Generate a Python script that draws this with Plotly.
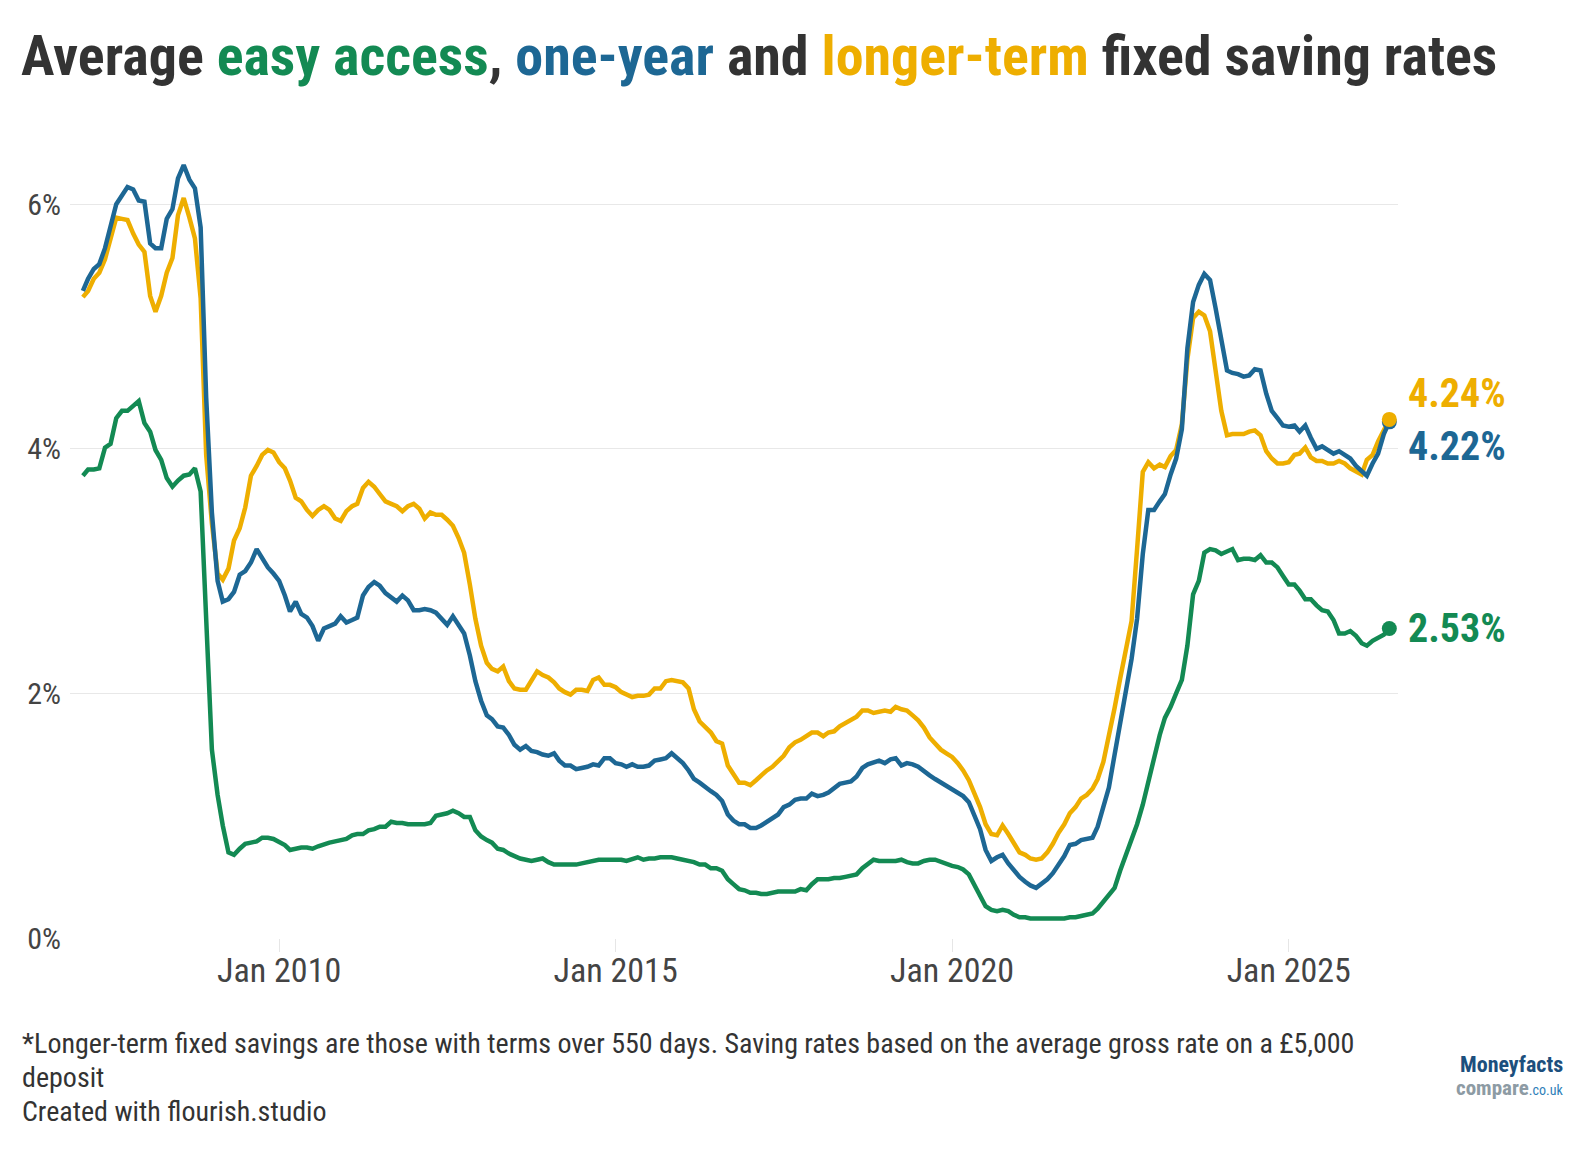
import plotly.graph_objects as go
import pandas as pd

# ---------------- data (monthly, Feb 2007 – Jul 2026) ----------------
start_month = "2007-02-01"

longer_term = [
    5.24, 5.29, 5.39, 5.44, 5.55, 5.72, 5.89, 5.88, 5.87, 5.76, 5.67,              # 2007 Feb-Dec
    5.61, 5.25, 5.12, 5.25, 5.44, 5.56, 5.91, 6.05, 5.89, 5.72, 5.23, 3.95,        # 2008
    3.39, 2.98, 2.93, 3.02, 3.25, 3.35, 3.52, 3.78, 3.86, 3.95, 3.99, 3.97,        # 2009
    3.89, 3.84, 3.74, 3.60, 3.57, 3.50, 3.45, 3.50, 3.53, 3.50, 3.43, 3.41,        # 2010
    3.49, 3.53, 3.55, 3.68, 3.73, 3.69, 3.63, 3.57, 3.55, 3.53, 3.49, 3.53,        # 2011
    3.55, 3.51, 3.43, 3.48, 3.46, 3.46, 3.42, 3.37, 3.27, 3.15, 2.89, 2.61,        # 2012
    2.39, 2.25, 2.20, 2.18, 2.22, 2.10, 2.04, 2.03, 2.03, 2.10, 2.18, 2.15,        # 2013
    2.13, 2.09, 2.04, 2.01, 1.99, 2.03, 2.03, 2.02, 2.11, 2.13, 2.07, 2.07,        # 2014
    2.05, 2.01, 1.99, 1.97, 1.98, 1.98, 1.99, 2.04, 2.04, 2.10, 2.11, 2.10,        # 2015
    2.09, 2.04, 1.87, 1.77, 1.72, 1.68, 1.61, 1.59, 1.41, 1.34, 1.27, 1.27,        # 2016
    1.25, 1.29, 1.33, 1.37, 1.40, 1.44, 1.49, 1.56, 1.60, 1.62, 1.65, 1.68,        # 2017
    1.68, 1.65, 1.68, 1.69, 1.73, 1.76, 1.78, 1.81, 1.86, 1.86, 1.84, 1.85,        # 2018
    1.86, 1.85, 1.89, 1.87, 1.86, 1.82, 1.78, 1.72, 1.64, 1.59, 1.54, 1.51,        # 2019
    1.48, 1.43, 1.37, 1.29, 1.18, 1.07, 0.93, 0.85, 0.84, 0.92, 0.85, 0.77,        # 2020
    0.70, 0.68, 0.65, 0.64, 0.65, 0.70, 0.77, 0.86, 0.93, 1.02, 1.07, 1.14,        # 2021
    1.17, 1.22, 1.30, 1.44, 1.64, 1.88, 2.12, 2.34, 2.59, 3.18, 3.81, 3.89,        # 2022
    3.84, 3.87, 3.85, 3.94, 3.99, 4.20, 4.73, 5.07, 5.12, 5.09, 4.96, 4.64,        # 2023
    4.31, 4.11, 4.12, 4.12, 4.12, 4.14, 4.15, 4.11, 3.98, 3.92, 3.88, 3.88,        # 2024
    3.89, 3.95, 3.96, 4.01, 3.93, 3.90, 3.90, 3.88, 3.88, 3.90, 3.88, 3.84,        # 2025
    3.81, 3.79, 3.91, 3.95, 4.06, 4.16, 4.24,                                      # 2026 Jan-Jul
]

one_year = [
    5.29, 5.39, 5.47, 5.51, 5.64, 5.81, 6.00, 6.07, 6.14, 6.12, 6.03,
    6.02, 5.68, 5.64, 5.64, 5.88, 5.96, 6.21, 6.32, 6.20, 6.13, 5.81, 4.42,
    3.48, 2.92, 2.75, 2.77, 2.83, 2.97, 3.00, 3.07, 3.18, 3.10, 3.03, 2.98,
    2.92, 2.80, 2.67, 2.75, 2.65, 2.62, 2.55, 2.43, 2.53, 2.55, 2.57, 2.63,
    2.58, 2.60, 2.62, 2.80, 2.87, 2.91, 2.88, 2.82, 2.78, 2.75, 2.80, 2.76,
    2.68, 2.68, 2.69, 2.68, 2.66, 2.61, 2.56, 2.63, 2.55, 2.49, 2.31, 2.10,
    1.94, 1.82, 1.79, 1.73, 1.72, 1.66, 1.58, 1.54, 1.57, 1.53, 1.52, 1.50,
    1.49, 1.51, 1.45, 1.41, 1.41, 1.38, 1.39, 1.40, 1.42, 1.41, 1.47, 1.47,
    1.43, 1.42, 1.40, 1.42, 1.40, 1.40, 1.41, 1.45, 1.46, 1.47, 1.51, 1.47,
    1.43, 1.37, 1.30, 1.27, 1.23, 1.20, 1.17, 1.12, 1.01, 0.96, 0.93, 0.93,
    0.90, 0.90, 0.92, 0.95, 0.98, 1.01, 1.07, 1.09, 1.13, 1.14, 1.14, 1.18,
    1.16, 1.17, 1.19, 1.22, 1.26, 1.27, 1.28, 1.32, 1.39, 1.42, 1.44, 1.45,
    1.43, 1.46, 1.47, 1.41, 1.43, 1.42, 1.40, 1.37, 1.33, 1.30, 1.27, 1.24,
    1.21, 1.18, 1.16, 1.11, 1.01, 0.89, 0.72, 0.63, 0.66, 0.68, 0.61, 0.55,
    0.50, 0.46, 0.43, 0.41, 0.44, 0.48, 0.53, 0.60, 0.67, 0.76, 0.77, 0.80,
    0.81, 0.82, 0.91, 1.09, 1.23, 1.50, 1.76, 1.99, 2.28, 2.61, 3.14, 3.50,
    3.50, 3.57, 3.63, 3.79, 3.92, 4.16, 4.82, 5.20, 5.34, 5.43, 5.38, 5.15,
    4.87, 4.64, 4.62, 4.61, 4.59, 4.60, 4.65, 4.64, 4.45, 4.31, 4.25, 4.19,
    4.18, 4.19, 4.14, 4.19, 4.09, 4.00, 4.02, 3.99, 3.96, 3.98, 3.95, 3.92,
    3.86, 3.82, 3.78, 3.88, 3.96, 4.12, 4.22,
]

easy_access = [
    3.78, 3.83, 3.83, 3.84, 4.01, 4.04, 4.25, 4.31, 4.31, 4.35, 4.39,
    4.21, 4.14, 3.99, 3.91, 3.76, 3.69, 3.74, 3.78, 3.79, 3.84, 3.65, 2.67,
    1.54, 1.17, 0.92, 0.70, 0.68, 0.73, 0.77, 0.78, 0.79, 0.82, 0.82, 0.81,
    0.79, 0.76, 0.72, 0.73, 0.74, 0.74, 0.73, 0.75, 0.77, 0.78, 0.79, 0.80,
    0.81, 0.84, 0.85, 0.85, 0.88, 0.89, 0.91, 0.91, 0.95, 0.94, 0.94, 0.93,
    0.93, 0.93, 0.93, 0.94, 1.00, 1.01, 1.02, 1.04, 1.02, 0.99, 0.99, 0.88,
    0.83, 0.80, 0.78, 0.73, 0.72, 0.69, 0.67, 0.65, 0.64, 0.63, 0.64, 0.65,
    0.62, 0.60, 0.60, 0.60, 0.60, 0.60, 0.61, 0.62, 0.63, 0.64, 0.64, 0.64,
    0.64, 0.64, 0.63, 0.65, 0.66, 0.64, 0.65, 0.65, 0.66, 0.66, 0.66, 0.65,
    0.64, 0.63, 0.62, 0.60, 0.60, 0.57, 0.57, 0.55, 0.48, 0.44, 0.40, 0.39,
    0.37, 0.37, 0.36, 0.36, 0.37, 0.38, 0.38, 0.38, 0.38, 0.40, 0.39, 0.44,
    0.48, 0.48, 0.48, 0.49, 0.49, 0.50, 0.51, 0.52, 0.57, 0.61, 0.64, 0.63,
    0.63, 0.63, 0.63, 0.64, 0.62, 0.61, 0.61, 0.63, 0.64, 0.64, 0.62, 0.61,
    0.59, 0.58, 0.56, 0.52, 0.43, 0.33, 0.26, 0.23, 0.22, 0.23, 0.22, 0.19,
    0.17, 0.17, 0.16, 0.16, 0.16, 0.16, 0.16, 0.16, 0.16, 0.17, 0.17, 0.18,
    0.19, 0.20, 0.24, 0.30, 0.36, 0.41, 0.55, 0.68, 0.80, 0.93, 1.09, 1.28,
    1.50, 1.66, 1.80, 1.89, 2.00, 2.11, 2.39, 2.81, 2.92, 3.15, 3.18, 3.17,
    3.14, 3.16, 3.18, 3.09, 3.10, 3.10, 3.09, 3.13, 3.07, 3.07, 3.03, 2.96,
    2.89, 2.89, 2.84, 2.77, 2.77, 2.72, 2.68, 2.67, 2.60, 2.49, 2.49, 2.51,
    2.47, 2.41, 2.39, 2.43, 2.46, 2.48, 2.53,
]

x_tick_dates = ["2010-01-01", "2015-01-01", "2020-01-01", "2025-01-01"]
x_tick_labels = ["Jan 2010", "Jan 2015", "Jan 2020", "Jan 2025"]
y_tick_vals = [0, 2, 4, 6]
y_tick_labels = ["0%", "2%", "4%", "6%"]

months = pd.date_range(start_month, periods=len(one_year), freq="MS")

# ---------------- style ----------------
GREEN = "#138a53"
BLUE = "#1d6794"
ORANGE = "#eeae00"
TEXT = "#333333"
AXIS_TEXT = "#444444"
COND = "Roboto Condensed, Liberation Sans Narrow, Arial Narrow, sans-serif"

W, H = 1588, 1150
L, R, T, B = 70, 190, 143, 212
PW, PH = W - L - R, H - T - B


def px2x(px):
    return (px - L) / PW


def py2y(py):
    return (H - B - py) / PH


fig = go.Figure()

line_order = [(easy_access, GREEN, "Easy access"),
              (longer_term, ORANGE, "Longer-term fixed"),
              (one_year, BLUE, "One-year fixed")]
for vals, col, name in line_order:
    fig.add_trace(go.Scatter(x=months, y=vals, mode="lines", name=name,
                             line=dict(color=col, width=4.5),
                             hoverinfo="skip", showlegend=False))

for vals, col in [(one_year, BLUE), (longer_term, ORANGE), (easy_access, GREEN)]:
    fig.add_trace(go.Scatter(x=[months[-1]], y=[vals[-1]], mode="markers",
                             marker=dict(color=col, size=15), cliponaxis=False,
                             hoverinfo="skip", showlegend=False))

# end labels
end_labels = [(longer_term, ORANGE, 26), (one_year, BLUE, -25), (easy_access, GREEN, 0)]
for vals, col, ys in end_labels:
    fig.add_annotation(x=months[-1], y=vals[-1], xref="x", yref="y",
                       text=f"<b>{vals[-1]:.2f}%</b>", showarrow=False,
                       xanchor="left", yanchor="middle", xshift=17, yshift=ys,
                       font=dict(family=COND, size=40, color=col))

# footer
footer = [
    ("*Longer-term fixed savings are those with terms over 550 days. Saving rates based on the average gross rate on a £5,000", 1043),
    ("deposit", 1077),
    ("Created with flourish.studio", 1111),
]
for txt, yy in footer:
    fig.add_annotation(x=px2x(20), y=py2y(yy), xref="paper", yref="paper",
                       text=txt, showarrow=False, xanchor="left", yanchor="middle",
                       font=dict(family=COND, size=28, color=TEXT))

# logo
fig.add_annotation(x=px2x(1564), y=py2y(1064), xref="paper", yref="paper",
                   text="<b>Moneyfacts</b>", showarrow=False, xanchor="right",
                   yanchor="middle", borderpad=0,
                   font=dict(family=COND, size=22, color="#1c4f7d"))
fig.add_annotation(x=px2x(1564), y=py2y(1088), xref="paper", yref="paper",
                   text="<b>compare</b><span style='font-size:14px;color:#2f7fb9'>.co.uk</span>",
                   showarrow=False, xanchor="right", yanchor="middle", borderpad=0,
                   font=dict(family=COND, size=21, color="#8d9ba4"))

title_html = ("<b>Average <span style='color:%s'>easy access</span>, "
              "<span style='color:%s'>one-year</span> and "
              "<span style='color:%s'>longer-term</span> fixed saving rates</b>"
              % (GREEN, BLUE, ORANGE))

fig.update_layout(
    width=W, height=H,
    margin=dict(l=L, r=R, t=T, b=B),
    paper_bgcolor="white", plot_bgcolor="white",
    title=dict(text=title_html, x=21 / W, xref="container", xanchor="left",
               y=1 - 55 / H, yref="container", yanchor="middle",
               font=dict(family=COND, size=56, color=TEXT)),
    font=dict(family=COND, color=TEXT),
    xaxis=dict(type="date", range=["2006-11-23", "2026-08-17"],
               tickvals=x_tick_dates, ticktext=x_tick_labels,
               showgrid=False, zeroline=False, showline=False,
               ticks="outside", ticklen=13, tickcolor="#e6e6e6", tickwidth=1,
               ticklabelstandoff=-11,
               tickfont=dict(family=COND, size=34, color=AXIS_TEXT)),
    yaxis=dict(range=[0, 6.5], tickvals=y_tick_vals, ticktext=y_tick_labels,
               showgrid=True, gridcolor="#e8e8e8", gridwidth=1,
               zeroline=False, showline=False, ticks="",
               ticklabelstandoff=8,
               tickfont=dict(family=COND, size=30, color=AXIS_TEXT)),
)

fig.write_html("out.html")
